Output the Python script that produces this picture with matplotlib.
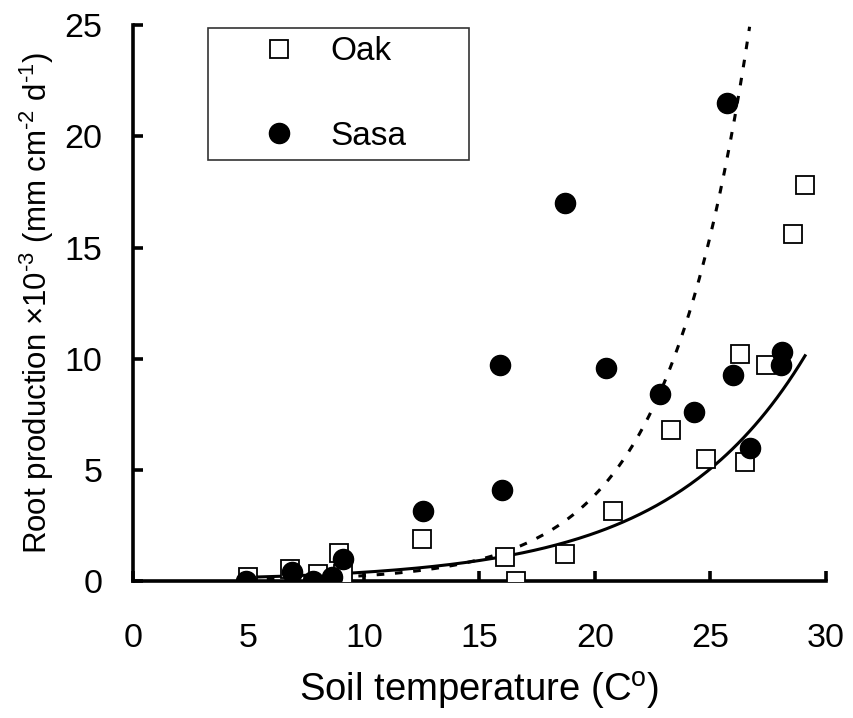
import matplotlib
matplotlib.use('Agg')
import matplotlib.pyplot as plt
import numpy as np

# Oak (open squares)
oak_temp = [5.0, 6.8, 8.0, 8.9, 9.1, 12.5, 16.1, 16.6, 18.7, 20.8, 23.3, 24.8, 26.5, 26.3, 27.4, 28.6, 29.1]
oak_prod = [0.2, 0.55, 0.3, 1.25, 0.3, 1.9, 1.1, 0.0, 1.2, 3.15, 6.8, 5.5, 5.35, 10.2, 9.7, 15.6, 17.8]

# Sasa (filled circles)
sasa_temp = [4.9, 6.9, 7.8, 8.6, 9.1, 12.55, 15.9, 16.0, 18.7, 20.5, 22.8, 24.3, 25.7, 26.0, 26.7, 28.1, 28.05]
sasa_prod = [0.0, 0.4, 0.0, 0.2, 1.0, 3.15, 9.7, 4.1, 17.0, 9.6, 8.4, 7.6, 21.5, 9.25, 6.0, 10.3, 9.7]

# exponential trend lines y = a * exp(b * x)
oak_fit = (0.072, 0.17)
oak_fit_range = (5.0, 29.1)
sasa_fit = (0.0149, 0.278)
sasa_fit_range = (5.0, 26.7)

plt.rcParams['font.family'] = ['Liberation Sans', 'DejaVu Sans']
plt.rcParams['mathtext.fontset'] = 'custom'
plt.rcParams['mathtext.rm'] = 'Liberation Sans'
plt.rcParams['mathtext.it'] = 'Liberation Sans'

fig = plt.figure(figsize=(8.54, 7.18), dpi=100)
ax = fig.add_axes([0.1557, 0.1908, 0.8113, 0.774])

ax.plot(oak_temp, oak_prod, linestyle='none', marker='s', markersize=13.5,
        markerfacecolor='white', markeredgecolor='black', markeredgewidth=1.3,
        label='Oak', zorder=3)
ax.plot(sasa_temp, sasa_prod, linestyle='none', marker='o', markersize=14.5,
        markerfacecolor='black', markeredgecolor='black', label='Sasa', zorder=4)

xs = np.linspace(oak_fit_range[0], oak_fit_range[1], 200)
ax.plot(xs, oak_fit[0] * np.exp(oak_fit[1] * xs), color='black', lw=2.2, zorder=2)
xs = np.linspace(sasa_fit_range[0], sasa_fit_range[1], 200)
ax.plot(xs, sasa_fit[0] * np.exp(sasa_fit[1] * xs), color='black', lw=2.2,
        linestyle=(0, (2.5, 3.5)), zorder=2)

ax.set_xlim(0, 30)
ax.set_ylim(0, 25)
ax.set_xticks(range(0, 31, 5))
ax.set_yticks(range(0, 26, 5))

for side in ['top', 'right']:
    ax.spines[side].set_visible(False)
for side in ['left', 'bottom']:
    ax.spines[side].set_linewidth(2.6)
ax.tick_params(direction='in', length=7, width=2.6, labelsize=24.5)
ax.tick_params(axis='x', pad=30)
ax.tick_params(axis='y', pad=22)

ax.set_xlabel('Soil temperature (C$^{\\text{o}}$)', fontsize=27.5, labelpad=12)
ax.set_ylabel('Root production \u00d710$^{\\text{-3}}$ (mm cm$^{\\text{-2}}$ d$^{\\text{-1}}$)',
              fontsize=22.5, labelpad=6)

leg = ax.legend(loc='upper left', bbox_to_anchor=(0.108, 0.995, 0.377, 0.0), mode='expand',
                fontsize=24, frameon=True, fancybox=False, edgecolor='black', borderpad=0.25,
                labelspacing=1.6, handletextpad=-0.38, borderaxespad=0, markerscale=1.0,
                handlelength=3.8)
leg.get_frame().set_linewidth(1.2)

fig.savefig('out.png', dpi=100)
